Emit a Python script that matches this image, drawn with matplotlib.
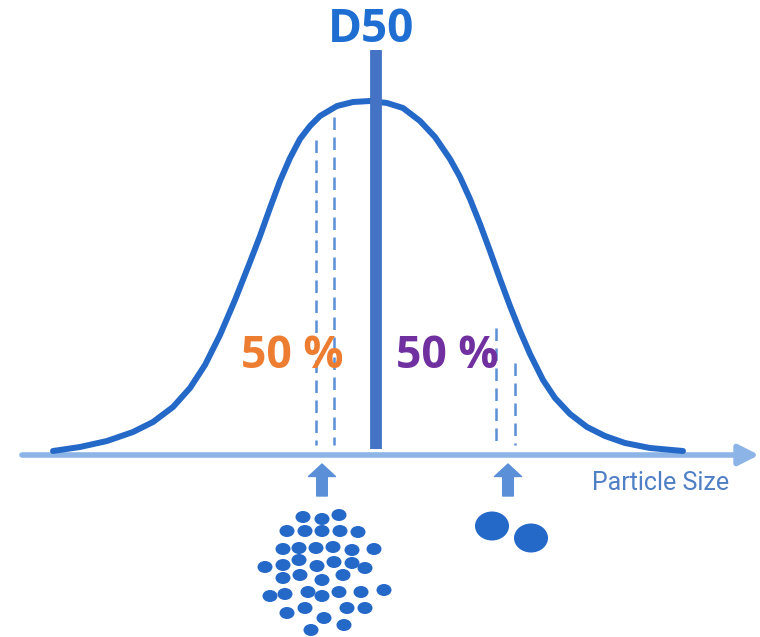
import matplotlib.pyplot as plt
from matplotlib.patches import Ellipse

# curve (pixel space, y grows downward)
curve_x = [53, 80, 107, 133, 153, 173, 190, 205, 220, 235, 250, 260, 270, 280, 290, 300, 310, 320,
           337, 353, 370, 387, 403, 420, 435, 450, 460, 470, 480, 490, 500, 510, 520, 530, 543, 555,
           570, 587, 605, 625, 650, 683]
curve_y = [451, 447, 441, 432, 422, 407, 388, 365, 335, 300, 262, 236, 208, 181, 158, 139, 126, 116,
           106, 102, 101, 103, 108, 121, 137, 159, 177, 199, 224, 251, 279, 306, 331, 354, 380, 398,
           414, 427, 436, 443, 448, 451]

d50_x = 376
d50_top, d50_bottom = 50, 449

# dashed guides: x, top
dash_x = [316, 334, 496, 515]
dash_top = [140, 117, 328, 363]
dash_bottom = 445

axis_y = 455
axis_start, axis_end = 22, 759

arrow_x = [322, 508]

# small particles (centres)
small_x = [303, 322, 339, 287, 305, 322, 340, 358, 283, 299, 316, 333, 352, 374, 265, 283, 299, 317,
           334, 352, 365, 283, 300, 322, 343, 270, 285, 308, 322, 339, 361, 384, 287, 305, 347, 365,
           324, 344, 311]
small_y = [517, 519, 515, 531, 531, 531, 531, 532, 549, 548, 548, 547, 550, 549, 567, 565, 560, 566,
           562, 563, 568, 578, 575, 580, 575, 596, 594, 592, 596, 592, 592, 590, 613, 608, 608, 608,
           618, 625, 630]

# large particles
big_x = [492, 531]
big_y = [526, 538]

BLUE = '#2468C8'
BOLD_FONT = ['Open Sans', 'DejaVu Sans']

fig = plt.figure(figsize=(7.6, 6.37), dpi=100)
ax = fig.add_axes([0, 0, 1, 1])
ax.set_xlim(0, 760)
ax.set_ylim(637, 0)
ax.axis('off')

# horizontal axis with arrow
ax.annotate('', xy=(axis_end, axis_y), xytext=(axis_start, axis_y),
            arrowprops=dict(arrowstyle='-|>,head_length=0.55,head_width=0.28', color='#8DB4E6',
                            lw=4, mutation_scale=22, shrinkA=0, shrinkB=0), zorder=1)

for x, top in zip(dash_x, dash_top):
    ax.plot([x, x], [top, dash_bottom], color='#5B8FD6', lw=1.8, dashes=(5, 3), zorder=2)

ax.plot(curve_x, curve_y, color=BLUE, lw=4.3, solid_capstyle='round', solid_joinstyle='round', zorder=3)

ax.plot([d50_x, d50_x], [d50_top, d50_bottom], color='#4472C4', lw=8.5, solid_capstyle='butt', zorder=4)

ax.text(371, 30, 'D50', color='#1F6FD2', fontsize=33, fontweight='bold', family=BOLD_FONT,
        ha='center', va='center')
ax.text(292, 357, '50 %', color='#ED7D31', fontsize=32, fontweight='bold', family=BOLD_FONT,
        ha='center', va='center', zorder=5)
ax.text(447, 357, '50 %', color='#7030A0', fontsize=32, fontweight='bold', family=BOLD_FONT,
        ha='center', va='center', zorder=5)
ax.text(661, 483, 'Particle Size', color='#4F7FC4', fontsize=18, family='Roboto',
        ha='center', va='center')

for x in arrow_x:
    ax.annotate('', xy=(x, 464), xytext=(x, 496),
                arrowprops=dict(arrowstyle='simple,head_width=0.97,head_length=0.45,tail_width=0.38',
                                color='#5B8FD8', mutation_scale=20, shrinkA=0, shrinkB=0))

for x, y in zip(small_x, small_y):
    ax.add_patch(Ellipse((x, y), 15, 12, color=BLUE, lw=0))
for x, y in zip(big_x, big_y):
    ax.add_patch(Ellipse((x, y), 34, 29, color=BLUE, lw=0))

fig.savefig('out.png', dpi=100)
